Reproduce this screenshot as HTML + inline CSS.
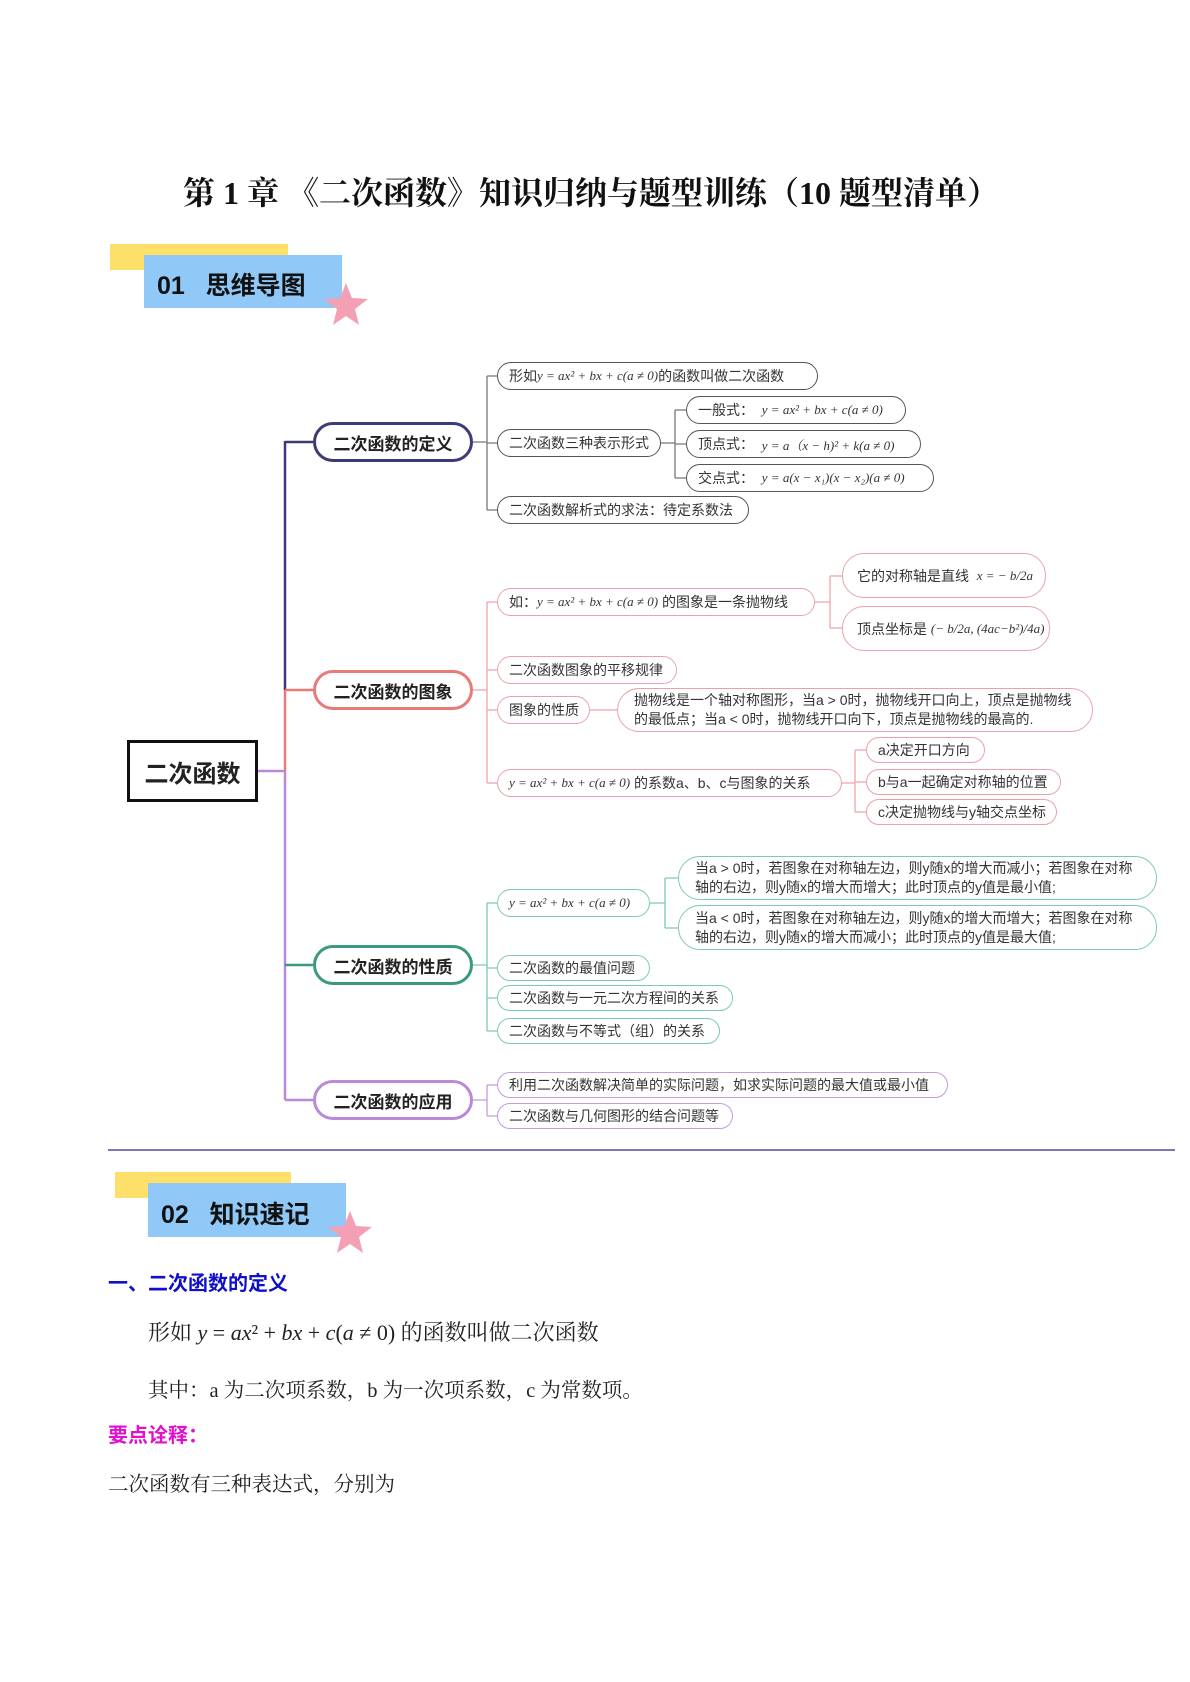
<!DOCTYPE html>
<html><head><meta charset="utf-8"><style>
*{margin:0;padding:0;box-sizing:border-box}
body{width:1190px;height:1682px;position:relative;background:#fff;font-family:"Liberation Sans","Noto Sans CJK SC",sans-serif;color:#222;overflow:hidden}
.a{position:absolute}
.n{position:absolute;background:#fff;border:1.5px solid;border-radius:15px;font-size:14px;display:flex;align-items:center;padding-left:11px;white-space:nowrap;color:#333}
.d{border-color:#555}.r{border-color:#e9a2aa}.t{border-color:#7ccab0}.p{border-color:#c59ae0}
.m{font-family:"Liberation Serif","Noto Serif CJK SC",serif;font-style:italic;font-size:13px}
.l1{position:absolute;left:313px;width:160px;height:40px;border:3px solid;border-radius:20px;background:#fff;font-weight:bold;font-size:17px;display:flex;align-items:center;justify-content:center;color:#222}
.two{white-space:normal;line-height:19px;padding-right:10px}
.ser{font-family:"Liberation Serif","Noto Serif CJK SC",serif}
</style></head><body>
<div class="a ser" style="left:183px;top:168px;font-size:32px;white-space:nowrap;color:#111;font-weight:bold">第 1 章 《二次函数》知识归纳与题型训练（10 题型清单）</div>

<div class="a" style="left:110px;top:244px;width:178px;height:26px;background:#fde06a"></div>
<div class="a" style="left:144px;top:255px;width:198px;height:53px;background:#90c8f8"></div>
<div class="a" style="left:157px;top:266px;font-size:25px;font-weight:bold;color:#111;white-space:nowrap">01&nbsp;&nbsp;&nbsp;思维导图</div>
<svg class="a" style="left:322px;top:280px" width="48" height="48"><polygon points="24,3 30,18 46,19 33,29 37,45 24,36 11,45 15,29 2,19 18,18" fill="#f4a0b4"/></svg>

<svg class="a" style="left:0;top:0" width="1190" height="1160">
<g fill="none" stroke-width="2.5">
<line x1="258" y1="771" x2="285" y2="771" stroke="#b98ad8"/>
<line x1="285" y1="441" x2="285" y2="690" stroke="#3d3b77"/>
<line x1="285" y1="690" x2="285" y2="771" stroke="#e87b78"/>
<line x1="285" y1="771" x2="285" y2="1100" stroke="#b98ad8"/>
<line x1="285" y1="442" x2="313" y2="442" stroke="#3d3b77"/>
<line x1="285" y1="690" x2="313" y2="690" stroke="#e87b78"/>
<line x1="285" y1="965" x2="313" y2="965" stroke="#3a9a7f"/>
<line x1="285" y1="1100" x2="313" y2="1100" stroke="#b98ad8"/>
</g>
<g fill="none" stroke-width="1.3">
<g stroke="#777"><path d="M473 442H487M487 376V510M487 376H497M487 443H497M487 510H497M661 443H675M675 410V478M675 410H686M675 444H686M675 478H686"/></g>
<g stroke="#eea4ac"><path d="M473 690H487M487 602V783M487 602H497M487 670H497M487 710H497M487 783H497M815 602H830M830 576V628M830 576H842M830 628H842M590 710H617M842 783H855M855 750V812M855 750H866M855 782H866M855 812H866"/></g>
<g stroke="#7ccab0"><path d="M473 965H487M487 903V1031M487 903H497M487 968H497M487 998H497M487 1031H497M650 903H665M665 878V928M665 878H678M665 928H678"/></g>
<g stroke="#c59ae0"><path d="M473 1100H487M487 1085V1116M487 1085H497M487 1116H497"/></g>
</g>
<line x1="108" y1="1150" x2="1175" y2="1150" stroke="#2a2a80" stroke-width="1.2"/>
</svg>

<div class="a" style="left:127px;top:740px;width:131px;height:62px;border:3px solid #111;display:flex;align-items:center;justify-content:center;font-size:24px;font-weight:bold">二次函数</div>

<div class="l1" style="top:422px;border-color:#3d3b77">二次函数的定义</div>
<div class="l1" style="top:670px;border-color:#e87b78">二次函数的图象</div>
<div class="l1" style="top:945px;border-color:#3a9a7f">二次函数的性质</div>
<div class="l1" style="top:1080px;border-color:#b98ad8">二次函数的应用</div>

<div class="n d" style="left:497px;top:362px;width:321px;height:28px">形如<span class="m">y = ax² + bx + c(a ≠ 0)</span>的函数叫做二次函数</div>
<div class="n d" style="left:497px;top:429px;width:164px;height:28px">二次函数三种表示形式</div>
<div class="n d" style="left:686px;top:396px;width:220px;height:28px">一般式：&nbsp;&nbsp;<span class="m">y = ax² + bx + c(a ≠ 0)</span></div>
<div class="n d" style="left:686px;top:430px;width:235px;height:28px">顶点式：&nbsp;&nbsp;<span class="m">y = a（x − h)² + k(a ≠ 0)</span></div>
<div class="n d" style="left:686px;top:464px;width:248px;height:28px">交点式：&nbsp;&nbsp;<span class="m">y = a(x − x₁)(x − x₂)(a ≠ 0)</span></div>
<div class="n d" style="left:497px;top:496px;width:252px;height:28px">二次函数解析式的求法：待定系数法</div>

<div class="n r" style="left:497px;top:588px;width:318px;height:28px">如：<span class="m">y = ax² + bx + c(a ≠ 0)</span>&nbsp;的图象是一条抛物线</div>
<div class="n r" style="left:842px;top:553px;width:204px;height:45px;border-radius:22px;padding-left:14px">它的对称轴是直线&nbsp;&nbsp;<span class="m">x = − b/2a</span></div>
<div class="n r" style="left:842px;top:606px;width:208px;height:45px;border-radius:22px;padding-left:14px">顶点坐标是&nbsp;<span class="m">(− b/2a, (4ac−b²)/4a)</span></div>
<div class="n r" style="left:497px;top:656px;width:180px;height:28px">二次函数图象的平移规律</div>
<div class="n r" style="left:497px;top:696px;width:93px;height:28px">图象的性质</div>
<div class="n r two" style="left:617px;top:688px;width:476px;height:44px;border-radius:22px;padding-left:16px">抛物线是一个轴对称图形，当a &gt; 0时，抛物线开口向上，顶点是抛物线的最低点；当a &lt; 0时，抛物线开口向下，顶点是抛物线的最高的.</div>
<div class="n r" style="left:497px;top:769px;width:345px;height:28px"><span class="m">y = ax² + bx + c(a ≠ 0)</span>&nbsp;的系数a、b、c与图象的关系</div>
<div class="n r" style="left:866px;top:737px;width:119px;height:26px">a决定开口方向</div>
<div class="n r" style="left:866px;top:769px;width:195px;height:26px">b与a一起确定对称轴的位置</div>
<div class="n r" style="left:866px;top:799px;width:191px;height:26px">c决定抛物线与y轴交点坐标</div>

<div class="n t" style="left:497px;top:889px;width:153px;height:28px"><span class="m">y = ax² + bx + c(a ≠ 0)</span></div>
<div class="n t two" style="left:678px;top:856px;width:479px;height:44px;border-radius:22px;padding-left:16px">当a &gt; 0时，若图象在对称轴左边，则y随x的增大而减小；若图象在对称轴的右边，则y随x的增大而增大；此时顶点的y值是最小值;</div>
<div class="n t two" style="left:678px;top:905px;width:479px;height:45px;border-radius:22px;padding-left:16px">当a &lt; 0时，若图象在对称轴左边，则y随x的增大而增大；若图象在对称轴的右边，则y随x的增大而减小；此时顶点的y值是最大值;</div>
<div class="n t" style="left:497px;top:955px;width:153px;height:26px">二次函数的最值问题</div>
<div class="n t" style="left:497px;top:985px;width:236px;height:26px">二次函数与一元二次方程间的关系</div>
<div class="n t" style="left:497px;top:1018px;width:223px;height:26px">二次函数与不等式（组）的关系</div>

<div class="n p" style="left:497px;top:1072px;width:451px;height:26px">利用二次函数解决简单的实际问题，如求实际问题的最大值或最小值</div>
<div class="n p" style="left:497px;top:1103px;width:236px;height:26px">二次函数与几何图形的结合问题等</div>

<div class="a" style="left:115px;top:1172px;width:176px;height:26px;background:#fde06a"></div>
<div class="a" style="left:148px;top:1183px;width:198px;height:54px;background:#90c8f8"></div>
<div class="a" style="left:161px;top:1195px;font-size:25px;font-weight:bold;color:#111;white-space:nowrap">02&nbsp;&nbsp;&nbsp;知识速记</div>
<svg class="a" style="left:326px;top:1208px" width="48" height="48"><polygon points="24,3 30,18 46,19 33,29 37,45 24,36 11,45 15,29 2,19 18,18" fill="#f4a0b4"/></svg>

<div class="a" style="left:108px;top:1267px;font-size:20px;font-weight:bold;color:#1010c8;white-space:nowrap">一、二次函数的定义</div>
<div class="a ser" style="left:148px;top:1316px;font-size:22px;white-space:nowrap">形如 <i>y</i> = <i>ax</i>² + <i>bx</i> + <i>c</i>(<i>a</i> ≠ 0) 的函数叫做二次函数</div>
<div class="a ser" style="left:148px;top:1373px;font-size:20.5px;white-space:nowrap">其中：a 为二次项系数，b 为一次项系数，c 为常数项。</div>
<div class="a" style="left:108px;top:1419px;font-size:20px;font-weight:bold;color:#e010d0;white-space:nowrap">要点诠释：</div>
<div class="a ser" style="left:108px;top:1467px;font-size:20.5px;white-space:nowrap">二次函数有三种表达式，分别为</div>
</body></html>
